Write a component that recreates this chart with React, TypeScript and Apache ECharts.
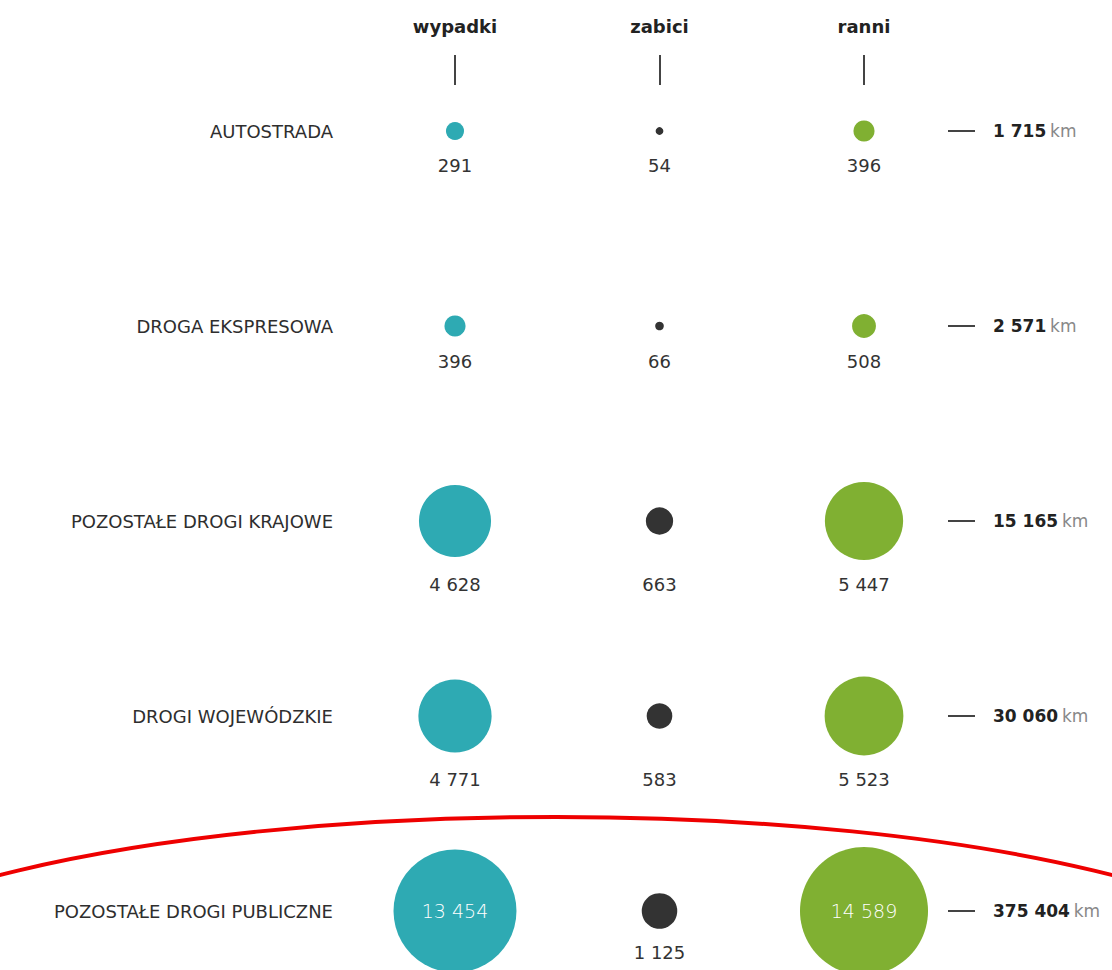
import React, { useEffect, useRef } from "react";
import * as echarts from "echarts";

const roads = [
  "AUTOSTRADA",
  "DROGA EKSPRESOWA",
  "POZOSTAŁE DROGI KRAJOWE",
  "DROGI WOJEWÓDZKIE",
  "POZOSTAŁE DROGI PUBLICZNE",
];
const measures = ["wypadki", "zabici", "ranni"];
const wypadki = [291, 396, 4628, 4771, 13454];
const zabici = [54, 66, 663, 583, 1125];
const ranni = [396, 508, 5447, 5523, 14589];
const lengthKm = [1715, 2571, 15165, 30060, 375404];
const colors = ["#2eaab3", "#333333", "#80b032"];

const FONT = "DejaVu Sans";
const SCALE = 1.06;
const INSIDE_THRESHOLD = 10000;
const LABEL_GAP = 24;

const allValues = [wypadki, zabici, ranni];
const fmt = (v: number) => String(v).replace(/\B(?=(\d{3})+(?!\d))/g, " ");
const sizeOf = (v: number) => SCALE * Math.sqrt(v);

// vertical offset of the value labels for each row: below the largest outside-labelled bubble
const rowLabelOffset = roads.map((_, i) => {
  const outside = allValues.map((arr) => arr[i]).filter((v) => v <= INSIDE_THRESHOLD);
  const maxV = Math.max(...outside);
  return sizeOf(maxV) / 2 + LABEL_GAP;
});

function buildSeries(name: string, values: number[], color: string) {
  return {
    type: "scatter",
    name,
    clip: false,
    silent: true,
    symbolSize: (d: any) => sizeOf(d[2]),
    itemStyle: { color, opacity: 1 },
    label: {
      show: true,
      position: "inside",
      fontSize: 18,
      color: "#333",
      fontFamily: FONT,
      formatter: (p: any) => fmt(p.value[2]),
    },
    data: values.map((v, i) =>
      v > INSIDE_THRESHOLD
        ? {
            value: [name, roads[i], v],
            label: { color: "#ffffff", fontSize: 19, fontWeight: "lighter" },
          }
        : { value: [name, roads[i], v], label: { offset: [0, rowLabelOffset[i]] } }
    ),
  };
}

export default function App() {
  const ref = useRef<HTMLDivElement>(null);
  useEffect(() => {
    document.body.style.margin = "0";
    const chart = echarts.init(ref.current!, undefined, { renderer: "svg" });
    chart.setOption({
      animation: false,
      backgroundColor: "#ffffff",
      textStyle: { fontFamily: FONT },
      grid: { left: 455, right: 248, top: 131, bottom: 59 },
      xAxis: {
        type: "category",
        data: measures,
        position: "top",
        offset: 46,
        boundaryGap: false,
        axisLine: { show: false },
        axisTick: { show: true, length: 30, lineStyle: { color: "#444", width: 2 } },
        splitLine: { show: false },
        axisLabel: { margin: 50, fontSize: 18, fontWeight: "bold", color: "#222", interval: 0 },
      },
      yAxis: [
        {
          type: "category",
          data: roads,
          inverse: true,
          boundaryGap: false,
          position: "left",
          axisLine: { show: false },
          axisTick: { show: false },
          splitLine: { show: false },
          axisLabel: { margin: 122, fontSize: 18, color: "#2e2e2e", interval: 0 },
        },
        {
          type: "category",
          data: roads,
          inverse: true,
          boundaryGap: false,
          position: "right",
          offset: 84,
          axisLine: { show: false },
          axisTick: { show: true, length: 27, lineStyle: { color: "#444", width: 2 } },
          splitLine: { show: false },
          axisLabel: {
            margin: 45,
            interval: 0,
            formatter: (_v: string, idx: number) => `{b|${fmt(lengthKm[idx])}} {k|km}`,
            rich: {
              b: { fontSize: 17, fontWeight: "bold", color: "#222", fontFamily: FONT },
              k: { fontSize: 17, color: "#888", fontFamily: FONT },
            },
          },
        },
      ],
      series: [
        buildSeries(measures[0], wypadki, colors[0]),
        buildSeries(measures[1], zabici, colors[1]),
        buildSeries(measures[2], ranni, colors[2]),
      ],
      graphic: [
        {
          type: "ellipse",
          z: 100,
          silent: true,
          shape: { cx: 556, cy: 1000, rx: 761, ry: 183 },
          style: { fill: "none", stroke: "#ee0000", lineWidth: 4 },
        },
      ],
    });
    return () => chart.dispose();
  }, []);
  return <div ref={ref} style={{ width: 1112, height: 970 }} />;
}
